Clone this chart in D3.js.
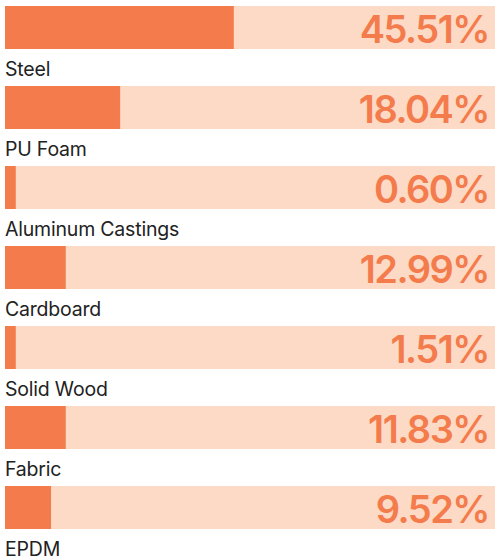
<!DOCTYPE html>
<html>
<head>
<meta charset="utf-8">
<script src="https://cdn.jsdelivr.net/npm/d3@7"></script>
<style>
  html, body { margin: 0; padding: 0; background: #fff; }
  svg { display: block; }
</style>
</head>
<body>
<div id="chart"></div>
<script>
// Materialien und Anteile (Text)
const materials = ["Steel", "PU Foam", "Aluminum Castings", "Cardboard", "Solid Wood", "Fabric", "EPDM"];
const shares = [45.51, 18.04, 0.60, 12.99, 1.51, 11.83, 9.52];
// Balkenfuellung (in %)
const barFill = [46.7, 23.5, 2.2, 12.4, 2.2, 12.4, 9.4];

const width = 496;
const height = 558;

const svg = d3.select("#chart")
    .append("svg")
    .attr("width", width)
    .attr("height", height);

const x = d3.scaleLinear().domain([0, 100]).range([5, 495]);
const y = d3.scaleBand().domain(materials).range([6, 6 + 80 * materials.length]);
const barH = 43;

const rows = svg.selectAll("g.row")
    .data(materials.map((m, i) => ({ name: m, share: shares[i], fill: barFill[i] })))
    .join("g")
    .attr("class", "row")
    .attr("transform", d => `translate(0,${y(d.name)})`);

// Hintergrundbalken
rows.append("rect")
    .attr("x", x(0))
    .attr("width", x(100) - x(0))
    .attr("height", barH)
    .attr("fill", "#fddac6");

// Wertbalken
rows.append("rect")
    .attr("x", x(0))
    .attr("width", d => x(d.fill) - x(0))
    .attr("height", barH)
    .attr("fill", "#f47c4c");

// Prozentwert
rows.append("text")
    .attr("x", 489)
    .attr("y", 37)
    .attr("text-anchor", "end")
    .style("font-family", "Inter, sans-serif")
    .style("font-weight", 600)
    .style("font-size", "38px")
    .style("letter-spacing", "-1.5px")
    .style("fill", "#f47c4c")
    .text(d => d.share.toFixed(2) + "%");

// Beschriftung
rows.append("text")
    .attr("x", 5)
    .attr("y", 70)
    .style("font-family", "Inter, sans-serif")
    .style("font-size", "19.5px")
    .style("letter-spacing", "-0.2px")
    .style("fill", "#222")
    .text(d => d.name);
</script>
</body>
</html>
